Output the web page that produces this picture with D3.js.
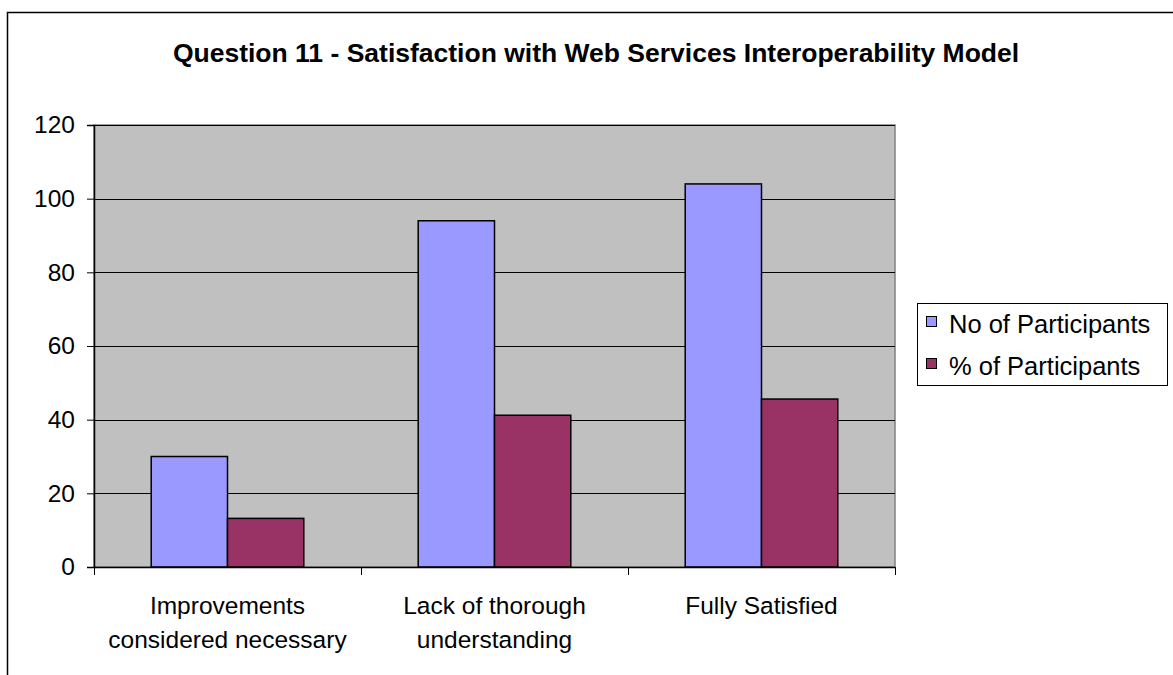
<!DOCTYPE html>
<html>
<head>
<meta charset="utf-8">
<script src="https://cdn.jsdelivr.net/npm/d3@7/dist/d3.min.js"></script>
<style>
  html, body { margin: 0; padding: 0; background: #fff; }
  svg { display: block; }
  text { font-family: "Liberation Sans", Arial, sans-serif; fill: #000; }
</style>
</head>
<body>
<svg id="chart" width="1173" height="675"></svg>
<script>
const title = "Question 11 - Satisfaction with Web Services Interoperability Model";
const categories = [
  ["Improvements", "considered necessary"],
  ["Lack of thorough", "understanding"],
  ["Fully Satisfied"]
];
const seriesNames = ["No of Participants", "% of Participants"];
const seriesColors = ["#9999FF", "#993366"];
const noOfParticipants = [30, 94, 104];
const pctOfParticipants = [13.2, 41.2, 45.6];
const yTicks = [0, 20, 40, 60, 80, 100, 120];

const seriesValues = [noOfParticipants, pctOfParticipants];
const catKeys = categories.map(c => c.join(" "));

const svg = d3.select("#chart");

// outer chart frame
svg.append("path")
  .attr("d", "M7.5,680 L7.5,12.5 L1180,12.5")
  .attr("fill", "none").attr("stroke", "#000").attr("stroke-width", 1.5);

// title
svg.append("text")
  .attr("x", 596).attr("y", 62)
  .attr("text-anchor", "middle")
  .attr("font-weight", "bold")
  .attr("font-size", 26.5)
  .text(title);

const plot = { left: 94, right: 895, top: 125, bottom: 567 };

const x = d3.scaleBand().domain(catKeys).range([plot.left, plot.right]).paddingInner(0).paddingOuter(0);
const xs = d3.scaleBand().domain(d3.range(seriesNames.length)).range([0, x.bandwidth()]).paddingInner(0).paddingOuter(0.75);
const y = d3.scaleLinear().domain([0, 120]).range([plot.bottom, plot.top]);

// plot background
svg.append("rect")
  .attr("x", plot.left).attr("y", plot.top)
  .attr("width", plot.right - plot.left).attr("height", plot.bottom - plot.top)
  .attr("fill", "#C0C0C0").attr("stroke", "#808080").attr("stroke-width", 1.5);

// gridlines
svg.append("g")
  .selectAll("line")
  .data(yTicks.filter(t => t > 0))
  .join("line")
  .attr("x1", plot.left).attr("x2", plot.right)
  .attr("y1", d => Math.round(y(d)) + 0.5).attr("y2", d => Math.round(y(d)) + 0.5)
  .attr("stroke", "#000").attr("stroke-width", 1);

// bars
const groups = svg.append("g")
  .selectAll("g")
  .data(categories.map((c, i) => ({ key: catKeys[i], i })))
  .join("g")
  .attr("transform", d => `translate(${x(d.key)},0)`);

groups.selectAll("rect")
  .data(d => seriesValues.map((vals, s) => ({ s, v: vals[d.i] })))
  .join("rect")
  .attr("x", d => xs(d.s))
  .attr("width", xs.bandwidth())
  .attr("y", d => y(d.v))
  .attr("height", d => y(0) - y(d.v))
  .attr("fill", d => seriesColors[d.s])
  .attr("stroke", "#000").attr("stroke-width", 1.5);

// y axis
const yAxis = d3.axisLeft(y).tickValues(yTicks).tickSize(7).tickPadding(12);
const ya = svg.append("g").attr("transform", `translate(${plot.left},0)`).call(yAxis);
ya.select(".domain").attr("stroke", "#000").attr("stroke-width", 1.5);
ya.selectAll(".tick line").attr("stroke", "#000");
ya.selectAll(".tick text")
  .attr("font-family", "Liberation Sans, Arial, sans-serif")
  .attr("font-size", 24.5).attr("fill", "#000");

// x axis
const xa = svg.append("g").attr("transform", `translate(0,${plot.bottom})`);
xa.append("line").attr("x1", plot.left).attr("x2", plot.right).attr("y1", 0.5).attr("y2", 0.5)
  .attr("stroke", "#000").attr("stroke-width", 1.5);
const xBounds = catKeys.map(k => x(k)).concat([x(catKeys[catKeys.length - 1]) + x.bandwidth()]);
xa.selectAll("line.tk").data(xBounds).join("line").attr("class", "tk")
  .attr("x1", d => d + 0.5).attr("x2", d => d + 0.5).attr("y1", 0).attr("y2", 8)
  .attr("stroke", "#000").attr("stroke-width", 1);

const labels = svg.append("g").selectAll("text")
  .data(categories.map((c, i) => ({ lines: c, key: catKeys[i] })))
  .join("text")
  .attr("text-anchor", "middle")
  .attr("font-size", 24.5)
  .attr("x", d => x(d.key) + x.bandwidth() / 2)
  .attr("y", 614);
labels.selectAll("tspan").data(d => d.lines.map(l => ({ l, cx: x(d.key) + x.bandwidth() / 2 })))
  .join("tspan")
  .attr("x", d => d.cx)
  .attr("dy", (d, i) => i === 0 ? 0 : 34)
  .text(d => d.l);

// legend
const lg = svg.append("g");
lg.append("rect").attr("x", 917.5).attr("y", 303.5).attr("width", 250).attr("height", 82)
  .attr("fill", "#fff").attr("stroke", "#000").attr("stroke-width", 1);
const items = lg.selectAll("g.item").data(seriesNames).join("g").attr("class", "item")
  .attr("transform", (d, i) => `translate(0,${i * 42})`);
items.append("rect").attr("x", 926.5).attr("y", 316.5).attr("width", 10).attr("height", 10)
  .attr("fill", (d, i) => seriesColors[i]).attr("stroke", "#000").attr("stroke-width", 1);
items.append("text").attr("x", 949).attr("y", 333).attr("font-size", 25.5).text(d => d);
</script>
</body>
</html>
